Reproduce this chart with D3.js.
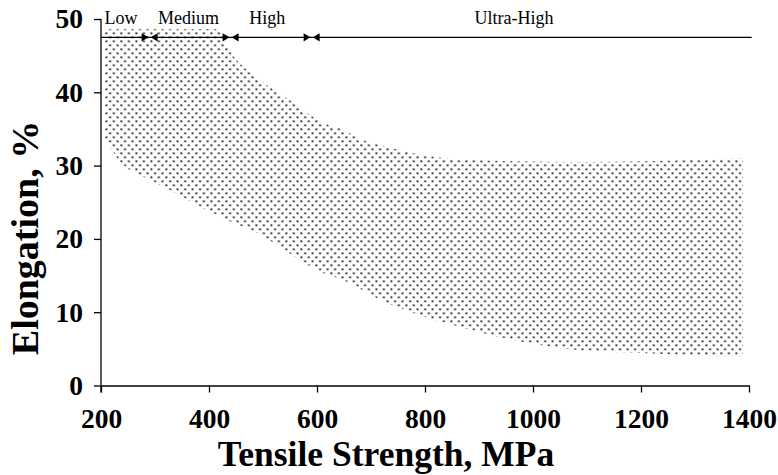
<!DOCTYPE html>
<html>
<head>
<meta charset="utf-8">
<script src="https://cdn.jsdelivr.net/npm/d3@7"></script>
<style>
  html, body { margin: 0; padding: 0; background: #fff; }
  svg { display: block; }
  text { font-family: "Liberation Serif", "Times New Roman", serif; }
</style>
</head>
<body>
<svg id="chart" width="778" height="475"></svg>
<script>
// Tensile strength (MPa) sample points along the band
const strength = [207, 241, 278, 334, 408, 420, 428, 495, 550, 612, 648, 685, 717, 778, 841, 963, 1087, 1211, 1333, 1389];
// Upper and lower elongation limits (%) at each strength
const elongMax = [48.6, 48.6, 48.6, 48.6, 48.6, 48.6, 47.2, 41.7, 38.9, 35.8, 34.9, 33.5, 32.8, 31.7, 31.0, 30.6, 30.5, 30.6, 30.9, 31.0];
const elongMin = [33.7, 30.1, 28.5, 26.4, 23.5, 23.1, 22.8, 20.6, 18.0, 15.3, 14.4, 13.0, 11.7, 9.9, 8.5, 6.2, 4.8, 4.4, 4.0, 4.0];

// Strength classes shown across the top
const classNames = ["Low", "Medium", "High", "Ultra-High"];
const classBounds = [200, 290, 440, 590, 1405];
const classLabelAt = [237, 362, 508, 965];
const classLineLevel = 47.5;

const xTicks = [200, 400, 600, 800, 1000, 1200, 1400];
const yTicks = [0, 10, 20, 30, 40, 50];

const svg = d3.select("#chart");
const x = d3.scaleLinear().domain([200, 1400]).range([101, 749]);
const y = d3.scaleLinear().domain([0, 50]).range([385.5, 19]);

// dotted fill
const defs = svg.append("defs");
const pat = defs.append("pattern")
  .attr("id", "dots")
  .attr("patternUnits", "userSpaceOnUse")
  .attr("width", 7.5).attr("height", 8);
pat.append("rect").attr("x", 0.4).attr("y", 0.4).attr("width", 1.9).attr("height", 1.9).attr("fill", "#2a2a2a");
pat.append("rect").attr("x", 4.15).attr("y", 4.4).attr("width", 1.9).attr("height", 1.9).attr("fill", "#2a2a2a");

const band = strength.map((s, i) => ({ s, hi: elongMax[i], lo: elongMin[i] }));
const area = d3.area()
  .x(d => x(d.s))
  .y0(d => y(d.lo))
  .y1(d => y(d.hi))
  .curve(d3.curveMonotoneX);

svg.append("path")
  .datum(band)
  .attr("d", area)
  .attr("fill", "url(#dots)");

// axes
const xAxis = svg.append("g")
  .attr("transform", `translate(0,${y(0)})`)
  .call(d3.axisBottom(x).tickValues(xTicks).tickSize(7).tickSizeOuter(0).tickPadding(16).tickFormat(d3.format("d")));
const yAxis = svg.append("g")
  .attr("transform", `translate(${x(200)},0)`)
  .call(d3.axisLeft(y).tickValues(yTicks).tickSize(7).tickSizeOuter(0).tickPadding(11).tickFormat(d3.format("d")));

[xAxis, yAxis].forEach(g => {
  g.select(".domain").attr("stroke", "#000").attr("stroke-width", 1.3);
  g.selectAll(".tick line").attr("stroke", "#000").attr("stroke-width", 1.3);
  g.selectAll(".tick text")
    .attr("fill", "#000")
    .style("font-family", '"Liberation Serif", "Times New Roman", serif')
    .style("font-weight", "bold")
    .style("font-size", "27.5px");
});
// y axis line continues down to meet the first x tick
yAxis.select(".domain").attr("d", `M0,${y(50)}V${y(0) + 7}`);

// axis titles
svg.append("text")
  .attr("x", 386).attr("y", 465.5)
  .attr("text-anchor", "middle")
  .style("font-weight", "bold").style("font-size", "35.5px")
  .text("Tensile Strength, MPa");
svg.append("text")
  .attr("transform", `translate(38,238) rotate(-90)`)
  .attr("text-anchor", "middle")
  .style("font-weight", "bold").style("font-size", "38px")
  .text("Elongation, %");

// strength class bar with arrow pairs at each boundary
const ly = y(classLineLevel);
svg.append("line")
  .attr("x1", x(classBounds[0])).attr("x2", x(classBounds[classBounds.length - 1]))
  .attr("y1", ly).attr("y2", ly)
  .attr("stroke", "#000").attr("stroke-width", 1.4);

const inner = classBounds.slice(1, -1);
const arrows = svg.append("g");
inner.forEach(b => {
  const bx = x(b);
  arrows.append("path")
    .attr("d", `M${bx - 1},${ly} L${bx - 8},${ly - 4.2} L${bx - 8},${ly + 4.2} Z`)
    .attr("fill", "#000");
  arrows.append("path")
    .attr("d", `M${bx + 1},${ly} L${bx + 8},${ly - 4.2} L${bx + 8},${ly + 4.2} Z`)
    .attr("fill", "#000");
});

svg.append("g").selectAll("text")
  .data(classNames)
  .join("text")
  .attr("x", (d, i) => x(classLabelAt[i]))
  .attr("y", 24)
  .attr("text-anchor", "middle")
  .style("font-size", "18px")
  .attr("fill", "#000")
  .text(d => d);
</script>
</body>
</html>
